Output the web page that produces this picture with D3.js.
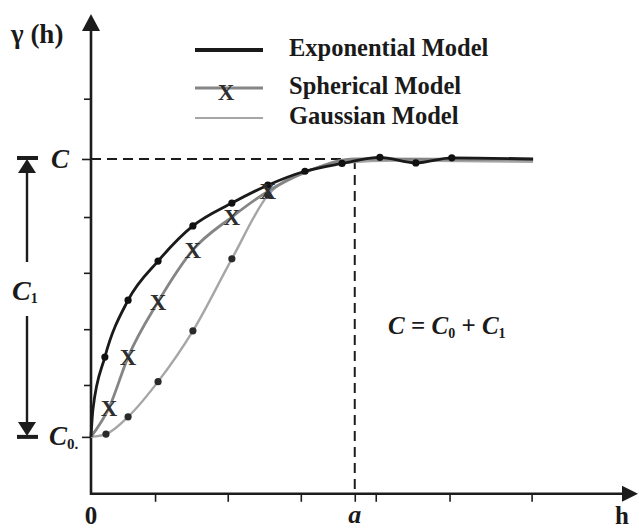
<!DOCTYPE html>
<html><head><meta charset="utf-8">
<script src="https://cdn.jsdelivr.net/npm/d3@7"></script>
<style>
html,body{margin:0;padding:0;background:#fff;}
svg text{font-family:"Liberation Serif","Times New Roman",serif;font-weight:bold;fill:#1a1a1a;}
</style></head>
<body>
<svg id="chart" width="639" height="529"></svg>
<script>
// ---- data (h in lag units, gamma values) ----
const C0 = 1.02;
const C = 6.0;
const rangeA = 7.04;
const seriesNames = ["Exponential Model", "Spherical Model", "Gaussian Model"];

const expH = [0, 0.05, 0.37, 0.99, 1.79, 2.72, 3.76, 4.72, 5.71, 6.70, 7.71, 8.67, 9.63, 11.8];
const expG = [1.02, 1.50, 2.45, 3.47, 4.17, 4.80, 5.21, 5.53, 5.78, 5.92, 6.03, 5.93, 6.02, 6.0];
const expMarked = [2, 3, 4, 5, 6, 7, 8, 9, 10, 11, 12];

const sphH = [0, 0.48, 0.99, 1.79, 2.72, 3.76, 4.72, 5.71, 7.07, 11.8];
const sphG = [1.02, 1.54, 2.45, 3.44, 4.37, 4.96, 5.42, 5.76, 6.0, 5.99];
const sphMarked = [1, 2, 3, 4, 5, 6];

const gauH = [0, 0.40, 0.99, 1.79, 2.72, 3.76, 4.72, 5.71, 6.70, 8.25, 11.8];
const gauG = [1.02, 1.07, 1.38, 2.01, 2.92, 4.21, 5.35, 5.76, 5.93, 5.97, 5.95];
const gauMarked = [1, 2, 3, 4, 5, 6];

const xTicks = [1.71, 3.65, 5.6, 7.04, 7.6, 9.57, 11.76];
const yTicks = [1.02, 1.95, 2.95, 3.96, 4.96, 6.0, 7.08];

// ---- layout ----
const svg = d3.select("#chart");
const x = d3.scaleLinear().domain([0, 14.6]).range([91, 638]);
const y = d3.scaleLinear().domain([0, 8.6]).range([493.8, 13.9]);
const ink = "#1c1c1c";

// dashed reference lines
svg.append("line").attr("x1", x(0)).attr("x2", x(rangeA)).attr("y1", y(C)).attr("y2", y(C))
  .attr("stroke", ink).attr("stroke-width", 2).attr("stroke-dasharray", "10,6");
svg.append("line").attr("x1", x(rangeA)).attr("x2", x(rangeA)).attr("y1", y(C)).attr("y2", y(0))
  .attr("stroke", ink).attr("stroke-width", 2).attr("stroke-dasharray", "10,6");

// axes via d3 axis generators
const xAxis = d3.axisBottom(x).tickValues(xTicks).tickSize(8).tickFormat("");
const gx = svg.append("g").attr("transform", `translate(0,${y(0)})`).call(xAxis);
gx.select(".domain").remove();
gx.selectAll(".tick line").attr("stroke", ink).attr("stroke-width", 1.6);
const yAxis = d3.axisLeft(y).tickValues(yTicks).tickSize(7).tickFormat("");
const gy = svg.append("g").attr("transform", `translate(${x(0)},0)`).call(yAxis);
gy.select(".domain").remove();
gy.selectAll(".tick line").attr("stroke", ink).attr("stroke-width", 1.6)
  .attr("x2", d => (d === C || d === C0) ? -9 : -7);

// axis lines + arrows
svg.append("line").attr("x1", x(0)).attr("x2", x(0)).attr("y1", y(0) + 1).attr("y2", y(8.3))
  .attr("stroke", ink).attr("stroke-width", 2.6);
svg.append("line").attr("x1", x(0) - 1).attr("x2", x(14.2)).attr("y1", y(0)).attr("y2", y(0))
  .attr("stroke", ink).attr("stroke-width", 2.6);
svg.append("path").attr("d", `M${x(0)},${y(8.6)} L${x(0)-9},${y(8.6)+17} L${x(0)+9},${y(8.6)+17} Z`).attr("fill", ink);
svg.append("path").attr("d", `M${x(14.6)},${y(0)} L${x(14.6)-16},${y(0)-8} L${x(14.6)-16},${y(0)+8} Z`).attr("fill", ink);

// curves
const line = d3.line().x(d => x(d[0])).y(d => y(d[1])).curve(d3.curveMonotoneX);
const zip = (a, b) => a.map((v, i) => [v, b[i]]);
const gau = zip(gauH, gauG), sph = zip(sphH, sphG), exp = zip(expH, expG);

svg.append("path").datum(gau).attr("d", line).attr("fill", "none").attr("stroke", "#a6a6a6").attr("stroke-width", 2.4);
svg.append("path").datum(sph).attr("d", line).attr("fill", "none").attr("stroke", "#858585").attr("stroke-width", 2.8);
svg.append("path").datum(exp).attr("d", line).attr("fill", "none").attr("stroke", "#1a1a1a").attr("stroke-width", 2.8);

// markers
svg.append("g").selectAll("circle").data(gauMarked.map(i => gau[i])).join("circle")
  .attr("cx", d => x(d[0])).attr("cy", d => y(d[1])).attr("r", 3.6).attr("fill", "#2a2a2a");
svg.append("g").selectAll("circle").data(expMarked.map(i => exp[i])).join("circle")
  .attr("cx", d => x(d[0])).attr("cy", d => y(d[1])).attr("r", 3.6).attr("fill", "#111");
svg.append("g").selectAll("text").data(sphMarked.map(i => sph[i])).join("text")
  .attr("x", d => x(d[0])).attr("y", d => y(d[1]) + 8).attr("text-anchor", "middle")
  .attr("font-size", 23).style("fill", "#2e2e2e").text("X");

// legend
const legY = [50, 88, 118];
const legStroke = ["#1a1a1a", "#858585", "#a6a6a6"];
const legW = [4, 3, 2.2];
const leg = svg.append("g");
seriesNames.forEach((n, i) => {
  leg.append("line").attr("x1", 195).attr("x2", 263).attr("y1", legY[i]).attr("y2", legY[i])
    .attr("stroke", legStroke[i]).attr("stroke-width", legW[i]);
  leg.append("text").attr("x", 289).attr("y", legY[i] + 6).attr("font-size", 24.5).text(n);
});
leg.append("text").attr("x", 226).attr("y", 100).attr("text-anchor", "middle").attr("font-size", 23).style("fill", "#2e2e2e").text("X");

// axis labels
svg.append("text").attr("x", 11).attr("y", 43).attr("font-size", 27).text("γ (h)");
svg.append("text").attr("x", x(0)).attr("y", 524).attr("text-anchor", "middle").attr("font-size", 25).text("0");
svg.append("text").attr("x", x(rangeA)).attr("y", 523).attr("text-anchor", "middle").attr("font-size", 26).attr("font-style", "italic").text("a");
svg.append("text").attr("x", 622).attr("y", 524).attr("text-anchor", "middle").attr("font-size", 25).text("h");

// sill labels
svg.append("text").attr("x", 51).attr("y", y(C) + 9).attr("font-size", 27).attr("font-style", "italic").text("C");
const c0 = svg.append("text").attr("x", 49).attr("y", y(C0) + 8).attr("font-size", 27).attr("font-style", "italic");
c0.append("tspan").text("C");
c0.append("tspan").attr("font-size", 15).attr("font-style", "normal").attr("dy", 4).text("0.");

// C1 dimension arrow
const ax = 27;
svg.append("rect").attr("x", 17).attr("y", y(C) - 3).attr("width", 21).attr("height", 4).attr("fill", ink);
svg.append("path").attr("d", `M${ax},${y(C)} L${ax-9},${y(C)+14} L${ax+9},${y(C)+14} Z`).attr("fill", ink);
svg.append("rect").attr("x", 17).attr("y", y(C0) - 2).attr("width", 21).attr("height", 4).attr("fill", ink);
svg.append("path").attr("d", `M${ax},${y(C0)-1} L${ax-9},${y(C0)-15} L${ax+9},${y(C0)-15} Z`).attr("fill", ink);
svg.append("line").attr("x1", ax).attr("x2", ax).attr("y1", y(C) + 12).attr("y2", 262).attr("stroke", ink).attr("stroke-width", 2.4);
svg.append("line").attr("x1", ax).attr("x2", ax).attr("y1", 316).attr("y2", y(C0) - 13).attr("stroke", ink).attr("stroke-width", 2.4);
const c1 = svg.append("text").attr("x", 12).attr("y", 300).attr("font-size", 28).attr("font-style", "italic");
c1.append("tspan").text("C");
c1.append("tspan").attr("font-size", 14).attr("font-style", "normal").attr("dy", 3).text("1");

// formula
const f = svg.append("text").attr("x", 388).attr("y", 334).attr("font-size", 25).attr("font-style", "italic");
f.append("tspan").text("C");
f.append("tspan").attr("font-style", "normal").text(" = ");
f.append("tspan").text("C");
f.append("tspan").attr("font-size", 14).attr("font-style", "normal").attr("dy", 4).text("0");
f.append("tspan").attr("font-style", "normal").attr("dy", -4).text(" + ");
f.append("tspan").text("C");
f.append("tspan").attr("font-size", 14).attr("font-style", "normal").attr("dy", 4).text("1");
</script>
</body></html>
